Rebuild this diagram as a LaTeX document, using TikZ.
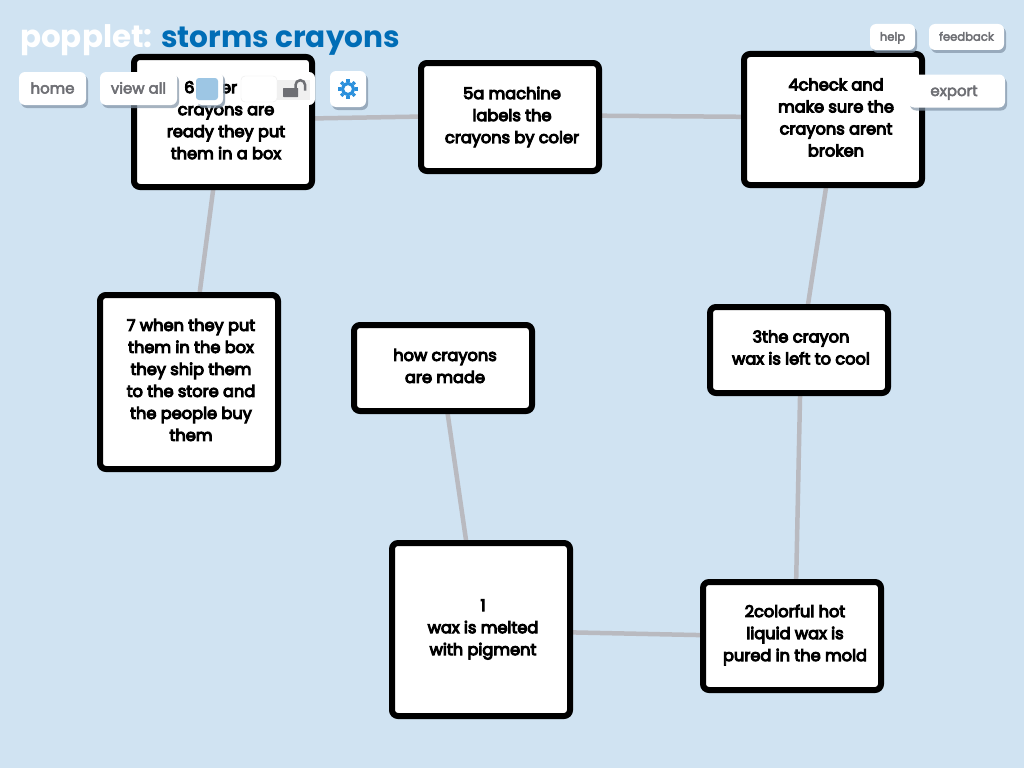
\documentclass[tikz,border=0pt]{standalone}
\usepackage{fontspec}
\setmainfont{Poppins}
\newfontfamily\popbold[FakeBold=6]{Poppins}
\newfontfamily\popsemi[FakeBold=3.5]{Poppins}
\usetikzlibrary{shadows,backgrounds}
\definecolor{bgblue}{HTML}{D0E3F2}
\definecolor{edgegrey}{HTML}{B9BAC0}
\definecolor{titleblue}{HTML}{006DB6}
\definecolor{uigrey}{HTML}{6E6F74}
\definecolor{shadowblue}{HTML}{8193A6}
\definecolor{gearblue}{HTML}{2B90DC}
\definecolor{swatch}{HTML}{9DC6E4}
\tikzset{
  x=1pt,y=-1pt,
  popbox/.style={draw=black,line width=6pt,fill=white,rounded corners=6pt,inner sep=0pt},
  poptext/.style={align=center,inner sep=0pt,text=black,font=\popbold\fontsize{16.2}{22}\selectfont},
  link/.style={draw=edgegrey,line width=4.5pt},
  uibtn/.style={fill=white,rounded corners=6pt,inner sep=0pt,
    drop shadow={shadow xshift=2pt,shadow yshift=-3pt,fill=shadowblue,opacity=.7},
    text=uigrey,font=\popsemi\fontsize{15}{18}\selectfont,text height=13pt,text depth=3pt},
  uismall/.style={font=\popsemi\fontsize{11.6}{15}\selectfont,text height=10.5pt,text depth=3pt},
  uiplain/.style={fill=white,rounded corners=6pt,inner sep=0pt},
  titletxt/.style={anchor=base west,inner sep=0pt},
}
\begin{document}
\begin{tikzpicture}
\useasboundingbox (0,0) rectangle (1024,768);
\node[popbox,minimum width=178pt,minimum height=130pt,label={[poptext,xshift=3pt,yshift=2pt]center:{6 after the\\crayons are\\ready they put\\them in a box}}] (six) at (223,122) {};
\node[popbox,minimum width=178pt,minimum height=108pt,label={[poptext,xshift=2pt]center:{5a machine\\labels the\\crayons by coler}}] (five) at (510,117) {};
\node[popbox,minimum width=178pt,minimum height=131pt,label={[poptext,xshift=3pt,yshift=2pt]center:{4check and\\make sure the\\crayons arent\\broken}}] (four) at (833,119.5) {};
\node[popbox,minimum width=178pt,minimum height=86pt,label={[poptext,xshift=2pt,yshift=2.5pt]center:{3the crayon\\wax is left to cool}}] (three) at (799,350) {};
\node[popbox,minimum width=178pt,minimum height=108pt,label={[poptext,xshift=3pt,yshift=1pt]center:{2colorful hot\\liquid wax is\\pured in the mold}}] (two) at (792,636) {};
\node[popbox,minimum width=178pt,minimum height=173pt,label={[poptext,xshift=2pt]center:{1\\wax is melted\\with pigment}}] (one) at (481,629.5) {};
\node[popbox,minimum width=178pt,minimum height=86pt,label={[poptext,xshift=2pt,yshift=2pt]center:{how crayons\\are made}}] (how) at (443,368) {};
\node[popbox,minimum width=178pt,minimum height=174pt,label={[poptext,xshift=2pt,yshift=2pt]center:{7 when they put\\them in the box\\they ship them\\to the store and\\the people buy\\them}}] (seven) at (189,382) {};
\begin{scope}[on background layer]
\fill[bgblue] (0,0) rectangle (1024,768);
\draw[link] ([yshift=2pt]six.center) -- ([yshift=2pt]five.center);
\draw[link] ([yshift=2pt]five.center) -- ([yshift=2pt]four.center);
\draw[link] ([xshift=3.5pt]four.center) -- ([xshift=2pt]three.center);
\draw[link] ([xshift=2pt]three.center) -- ([xshift=3pt]two.center);
\draw[link] ([yshift=-1pt]two.center) -- ([yshift=-1pt]one.center);
\draw[link] ([xshift=-2pt]how.center) -- ([xshift=-2pt]one.center);
\draw[link] ([xshift=-1pt]six.center) -- ([xshift=-1pt]seven.center);
\end{scope}
\node[titletxt,text=white,font=\bfseries\fontsize{31}{40}\selectfont] (brand) at (20,48) {popplet:};
\node[titletxt,text=titleblue,font=\bfseries\fontsize{29.6}{40}\selectfont] (name) at (161,48) {storms crayons};
\node[uibtn,minimum width=67pt,minimum height=33pt] (home) at (52.5,88.5) {home};
\node[uibtn,drop shadow={shadow xshift=2pt,shadow yshift=-2pt,fill=shadowblue,opacity=.25},minimum width=27pt,minimum height=33pt] (colorpanel) at (209.5,88.5) {};
\node[uibtn,minimum width=77pt,minimum height=33pt] (viewall) at (138.5,88.5) {view all};
\node[fill=swatch,rounded corners=3pt,minimum width=22pt,minimum height=22pt,inner sep=0pt] (sw) at (207,89) {};
\node[uiplain,minimum width=75pt,minimum height=33pt] (lockpanel) at (277.5,88.5) {};
\node[fill=black!6,minimum width=33pt,minimum height=20pt,inner sep=0pt] (lockbg) at (293,89.5) {};
\node[fill=white,draw=black!8,rounded corners=4pt,minimum width=36pt,minimum height=26pt,inner sep=0pt] (lockwhite) at (259,89) {};
\fill[uigrey,rounded corners=.5pt] (283,88) rectangle (298,97);
\draw[uigrey,line width=2.5pt] (295.5,88) -- (295.5,85) arc[start angle=180,end angle=0,radius=4.8pt] -- (305.1,90.5);
\node[uibtn,minimum width=36pt,minimum height=36pt] (gearbtn) at (348,89) {};
\draw[gearblue,line width=3.2pt] (348,89) circle[radius=5.6pt];
\foreach \a in {0,45,...,315}{\draw[gearblue,line width=3.2pt] (348,89) ++(\a:7pt) -- ++(\a:2.6pt);}
\node[uibtn,uismall,minimum width=45pt,minimum height=26pt] (help) at (892.5,37) {help};
\node[uibtn,uismall,minimum width=75pt,minimum height=26pt] (feedback) at (966.5,37) {feedback};
\node[uibtn,minimum width=97pt,minimum height=33pt] (export) at (956.5,91) {export\hspace*{5pt}};
\end{tikzpicture}
\end{document}
